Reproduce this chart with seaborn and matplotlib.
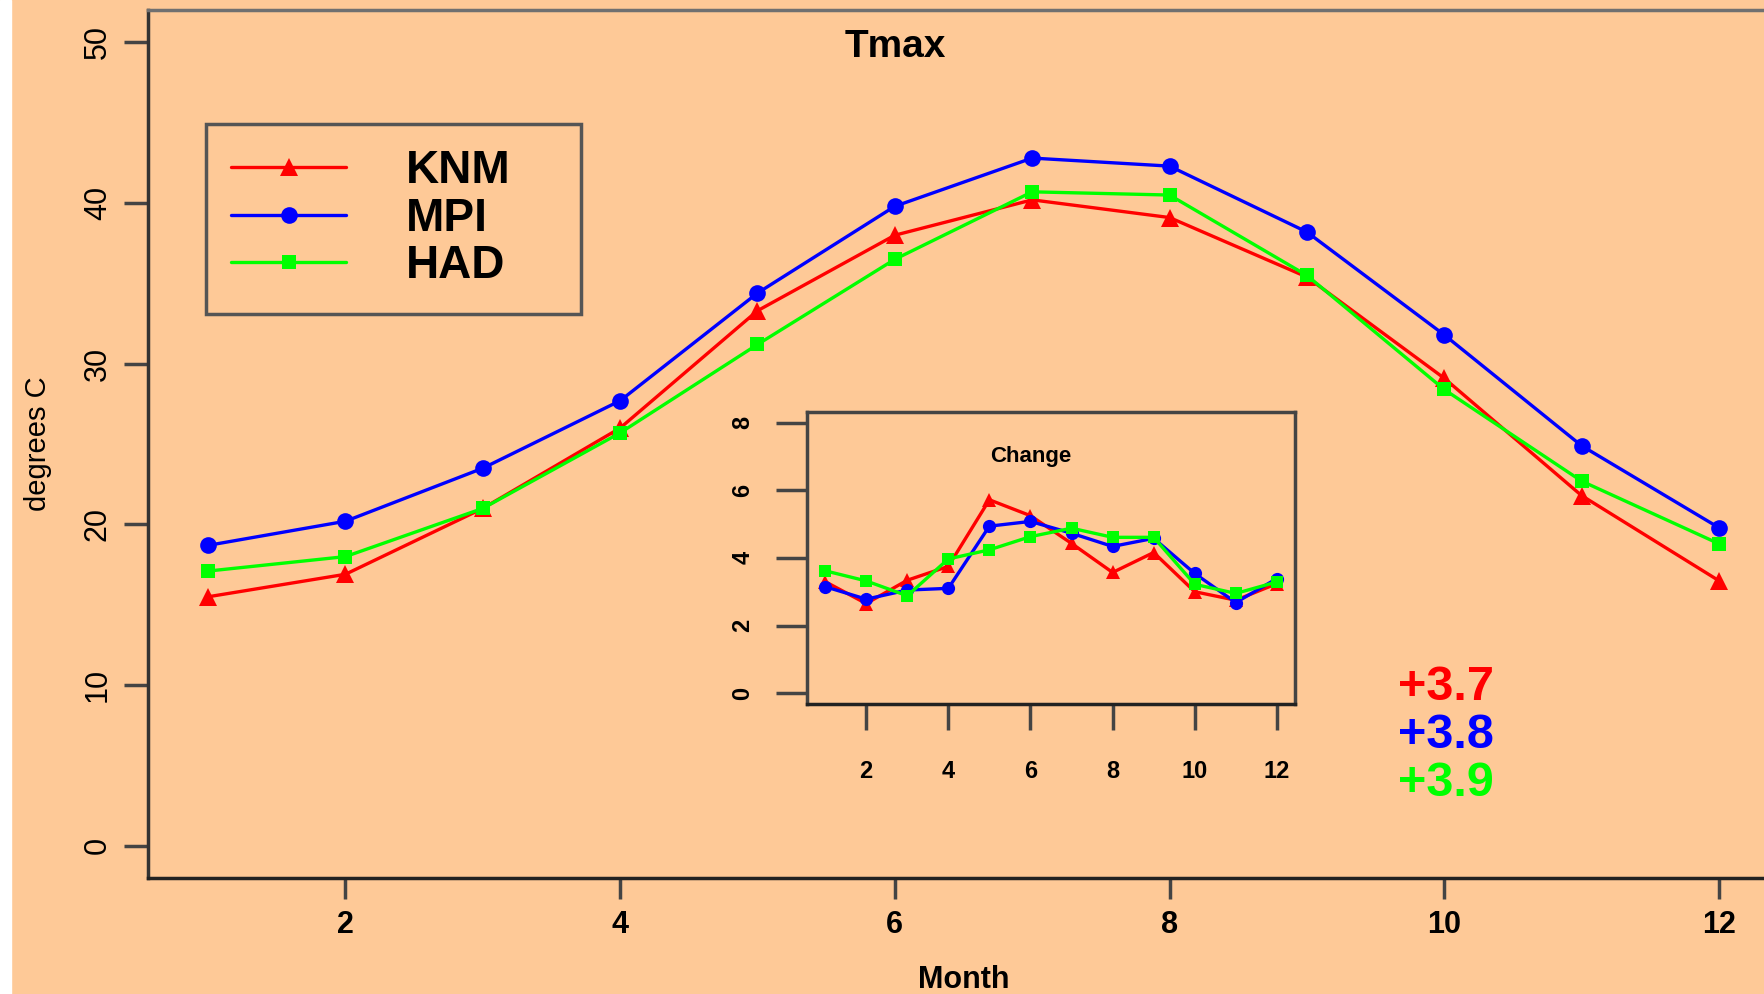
import matplotlib
matplotlib.use('Agg')
import matplotlib.pyplot as plt
import seaborn as sns
from matplotlib.patches import Rectangle

# Data
months = list(range(1, 13))
models = ['KNM', 'MPI', 'HAD']
colors = ['#FF0000', '#0000FF', '#00FF00']
markers = ['^', 'o', 's']

knm = [15.5, 16.9, 21.0, 26.0, 33.3, 38.0, 40.2, 39.1, 35.4, 29.1, 21.8, 16.5]
mpi = [18.7, 20.2, 23.5, 27.7, 34.4, 39.8, 42.8, 42.3, 38.2, 31.8, 24.9, 19.8]
had = [17.1, 18.0, 21.0, 25.7, 31.2, 36.5, 40.7, 40.5, 35.5, 28.4, 22.7, 18.8]

knm_change = [3.3, 2.65, 3.34, 3.75, 5.72, 5.25, 4.43, 3.57, 4.16, 3.0, 2.75, 3.24]
mpi_change = [3.15, 2.78, 3.05, 3.1, 4.94, 5.08, 4.73, 4.34, 4.58, 3.54, 2.68, 3.39]
had_change = [3.62, 3.32, 2.88, 3.97, 4.24, 4.63, 4.88, 4.61, 4.61, 3.22, 2.95, 3.29]

mean_change = ['+3.7', '+3.8', '+3.9']

bg = '#FEC997'

sns.set_style('ticks')
plt.rcParams['font.family'] = ['Liberation Sans', 'DejaVu Sans']
plt.rcParams['text.color'] = 'black'
plt.rcParams['axes.labelcolor'] = 'black'
plt.rcParams['xtick.labelcolor'] = 'black'
plt.rcParams['ytick.labelcolor'] = 'black'

fig = plt.figure(figsize=(17.64, 9.94), dpi=100, facecolor=bg)
# white strip on the left edge of the original
fig.patches.append(Rectangle((0, 0), 11 / 1764, 1, transform=fig.transFigure,
                             color='white', zorder=-1))

# Main panel
ax = fig.add_axes([0.0837, 0.1167, 0.925, 0.873])
ax.set_facecolor(bg)

main_series = [knm, mpi, had]
sizes = [13, 12, 10]
for vals, name, c, m, ms in zip(main_series, models, colors, markers, sizes):
    sns.lineplot(x=months, y=vals, ax=ax, color=c, marker=m, markersize=ms,
                 markeredgewidth=0, markeredgecolor=c, linewidth=2.4,
                 label=name)

ax.set_xlim(0.56, 12.44)
ax.set_ylim(-2, 52)
ax.set_xticks(range(2, 13, 2))
ax.set_yticks(range(0, 51, 10))
ax.tick_params(axis='x', length=15, width=2.5, color='#444444',
               labelsize=22, pad=8)
ax.tick_params(axis='y', length=17, width=2.5, color='#444444',
               labelsize=22, pad=8, labelrotation=90)
for lbl in ax.get_xticklabels():
    lbl.set_fontweight('bold')
for lbl in ax.get_yticklabels():
    lbl.set_va('center')

for side in ['left', 'bottom', 'right', 'top']:
    ax.spines[side].set_linewidth(2.5)
ax.spines['left'].set_color('#333333')
ax.spines['bottom'].set_color('#222222')
ax.spines['right'].set_color('#555555')
ax.spines['top'].set_color('#707070')

ax.set_xlabel('Month', fontsize=22, fontweight='bold', labelpad=18)
ax.set_ylabel('degrees C', fontsize=21, labelpad=22)

ax.text(6.0, 49.1, 'Tmax', ha='center', va='baseline', fontsize=28,
        fontweight='bold')

for i, (txt, c) in enumerate(zip(mean_change, colors)):
    ax.text(9.66, 9.1 - 3.0 * i, txt, color=c, ha='left', va='baseline',
            fontsize=35, fontweight='bold')

handles = ax.get_lines()[:3]
leg = ax.legend(handles, models, loc='upper left',
                bbox_to_anchor=(0.0358, 0.655, 0.230, 0.214), mode='expand',
                prop={'size': 33, 'weight': 'bold'}, frameon=True,
                fancybox=False, edgecolor='#555555', facecolor=bg,
                framealpha=1, borderpad=0.55, handlelength=2.5,
                handletextpad=1.3, labelspacing=0.08, borderaxespad=0)
leg.get_frame().set_linewidth(2.5)

# Inset panel: change per month
ax2 = fig.add_axes([0.4575, 0.2918, 0.2766, 0.2938])
ax2.set_facecolor(bg)
change_series = [knm_change, mpi_change, had_change]
for vals, c, m, ms in zip(change_series, colors, markers, [10, 9.5, 8.5]):
    sns.lineplot(x=months, y=vals, ax=ax2, color=c, marker=m, markersize=ms,
                 markeredgewidth=0, markeredgecolor=c, linewidth=2.4)

ax2.set_xlim(0.56, 12.44)
ax2.set_ylim(-0.32, 8.32)
ax2.set_xticks(range(2, 13, 2))
ax2.set_yticks(range(0, 9, 2))
ax2.tick_params(axis='x', length=19, width=2.5, color='#444444',
                labelsize=17, pad=21)
ax2.tick_params(axis='y', length=22, width=2.5, color='#444444',
                labelsize=17, pad=16, labelrotation=90)
for lbl in ax2.get_xticklabels() + ax2.get_yticklabels():
    lbl.set_fontweight('bold')
for lbl in ax2.get_yticklabels():
    lbl.set_va('center')
for side in ['left', 'bottom', 'right', 'top']:
    ax2.spines[side].set_linewidth(2.5)
    ax2.spines[side].set_color('#444444')
ax2.spines['bottom'].set_color('#222222')

ax2.text(6.0, 6.84, 'Change', ha='center', va='baseline', fontsize=16,
         fontweight='bold')

fig.savefig('out.png', dpi=100, facecolor=bg)
